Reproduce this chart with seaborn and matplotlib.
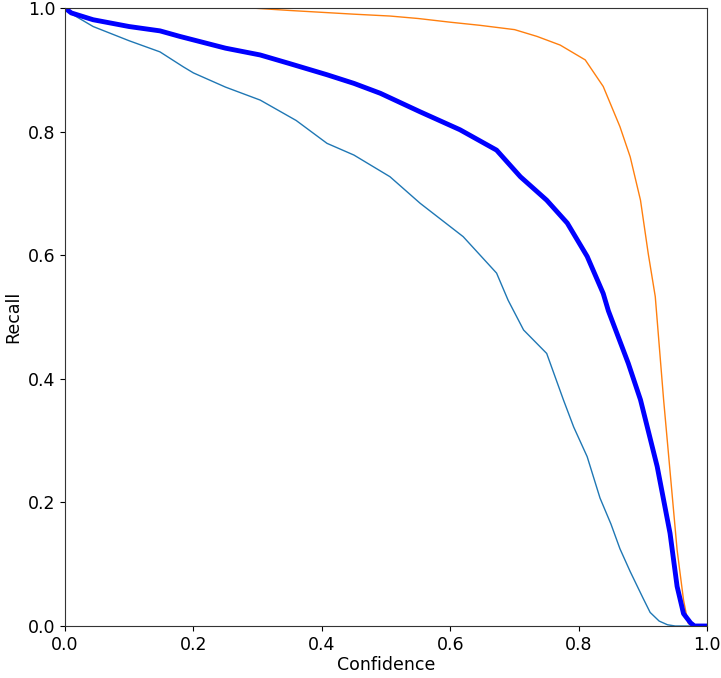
import matplotlib
matplotlib.use("Agg")
import matplotlib.pyplot as plt
import seaborn as sns

# per-class curve 0 (thin, C0)
conf_c0 = [0.0, 0.008, 0.044, 0.1, 0.148, 0.184, 0.2, 0.25, 0.304, 0.36, 0.408,
           0.45, 0.506, 0.553, 0.62, 0.672, 0.69, 0.714, 0.75, 0.776, 0.792,
           0.813, 0.833, 0.85, 0.864, 0.88, 0.9, 0.911, 0.925, 0.938, 0.95, 1.0]
recall_c0 = [1.0, 0.992, 0.970, 0.947, 0.929, 0.905, 0.895, 0.872, 0.851, 0.818, 0.781,
             0.762, 0.727, 0.684, 0.630, 0.571, 0.527, 0.479, 0.441, 0.366, 0.322,
             0.274, 0.207, 0.165, 0.125, 0.088, 0.045, 0.022, 0.008, 0.002, 0.0, 0.0]

# per-class curve 1 (thin, C1)
conf_c1 = [0.0, 0.29, 0.35, 0.4, 0.45, 0.506, 0.55, 0.6, 0.646, 0.7, 0.735,
           0.771, 0.81, 0.838, 0.864, 0.88, 0.896, 0.908, 0.919, 0.932, 0.953,
           0.963, 0.97, 0.975, 1.0]
recall_c1 = [1.0, 1.0, 0.996, 0.993, 0.990, 0.987, 0.983, 0.977, 0.972, 0.965, 0.954,
             0.940, 0.916, 0.873, 0.808, 0.759, 0.689, 0.603, 0.533, 0.366, 0.123,
             0.042, 0.005, 0.0, 0.0]

# all classes (thick blue)
conf_all = [0.0, 0.01, 0.044, 0.1, 0.148, 0.179, 0.25, 0.304, 0.35, 0.408, 0.45,
            0.491, 0.553, 0.615, 0.672, 0.709, 0.75, 0.782, 0.813, 0.838, 0.846,
            0.877, 0.896, 0.922, 0.942, 0.953, 0.963, 0.974, 0.98, 1.0]
recall_all = [1.0, 0.992, 0.981, 0.970, 0.963, 0.954, 0.935, 0.924, 0.910, 0.892, 0.878,
              0.862, 0.832, 0.803, 0.770, 0.727, 0.689, 0.652, 0.598, 0.538, 0.510,
              0.425, 0.366, 0.258, 0.150, 0.064, 0.020, 0.005, 0.0, 0.0]

fig = plt.figure(figsize=(7.21, 6.78), dpi=100)
ax = fig.add_axes([0.09, 0.0767, 0.891, 0.9115])

sns.lineplot(x=conf_c0, y=recall_c0, ax=ax, color="C0", linewidth=1,
             estimator=None, sort=False)
sns.lineplot(x=conf_c1, y=recall_c1, ax=ax, color="C1", linewidth=1,
             estimator=None, sort=False)
sns.lineplot(x=conf_all, y=recall_all, ax=ax, color="blue", linewidth=3.5,
             estimator=None, sort=False)

ax.set_xlim(0, 1)
ax.set_ylim(0, 1)
ax.set_xticks([0.0, 0.2, 0.4, 0.6, 0.8, 1.0])
ax.set_yticks([0.0, 0.2, 0.4, 0.6, 0.8, 1.0])
ax.tick_params(labelsize=12.5)
ax.set_xlabel("Confidence", fontsize=12.5, labelpad=2)
ax.set_ylabel("Recall", fontsize=12.5, labelpad=4)
for s in ax.spines.values():
    s.set_color("#333333")

fig.savefig("out.png", dpi=100)
